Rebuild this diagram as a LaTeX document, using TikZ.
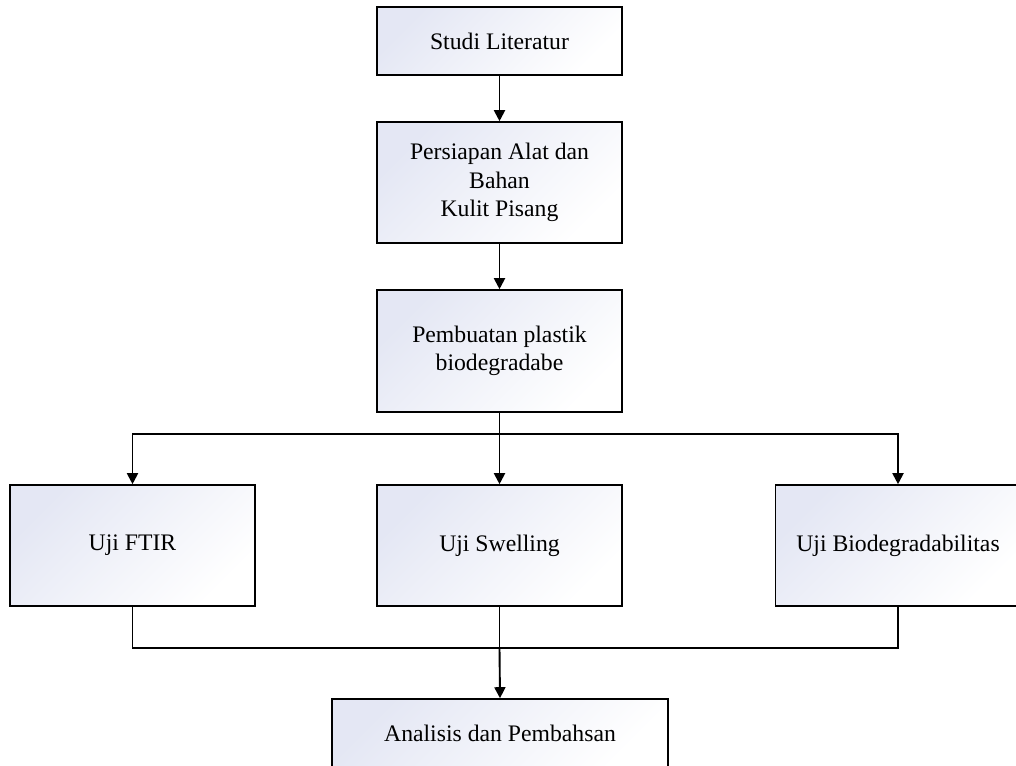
\documentclass[tikz,border=0pt]{standalone}
\usepackage{fontspec}
\setmainfont{Liberation Serif}
\usetikzlibrary{arrows.meta}
\definecolor{boxshade}{RGB}{228,231,244}
\tikzset{
  flowbox/.style={draw=black, line width=1.6pt, top color=boxshade, bottom color=white, shading angle=45,
    minimum width=245pt, inner sep=2pt, align=center,
    font=\fontsize{23.7}{28.5}\selectfont},
  conn/.style={line width=1.9pt, draw=black},
  arr/.style={conn, -{Triangle[width=11pt,length=11pt]}}
}
\begin{document}
\begin{tikzpicture}[x=1pt,y=1pt]
\useasboundingbox (0,0) rectangle (1016,-765);
\node[flowbox, minimum height=68pt] (b1) at (499.5,-41) {Studi Literatur};
\node[flowbox, minimum height=121pt] (b2) at (499.5,-182.5) {Persiapan Alat dan\\Bahan\\Kulit Pisang};
\node[flowbox, minimum height=122pt] (b3) at (499.5,-351) {Pembuatan plastik\\biodegradabe};
\node[flowbox, minimum height=121pt] (ftir) at (132.5,-545.5) {Uji FTIR};
\node[flowbox, minimum height=121pt] (swell) at (499.5,-545.5) {Uji Swelling};
\node[flowbox, minimum height=121pt] (bio) at (898,-545.5) {Uji Biodegradabilitas};
\node[flowbox, minimum width=336pt, minimum height=68pt] (ana) at (500,-733) {Analisis dan Pembahsan};
\coordinate (j1) at (499.5,-434);
\coordinate (j2) at (499.5,-648);
\draw[arr] (b1) -- (b2);
\draw[arr] (b2) -- (b3);
\draw[conn] (b3.south) -- (j1);
\draw[arr] (j1) -| (ftir.north);
\draw[arr] (j1) -| (bio.north);
\draw[arr] (j1) -- (swell.north);
\draw[conn] (ftir.south) |- (j2);
\draw[conn] (bio.south) |- (j2);
\draw[conn] (swell.south) -- (j2);
\draw[arr] (j2) -- (ana.north);
\end{tikzpicture}
\end{document}
